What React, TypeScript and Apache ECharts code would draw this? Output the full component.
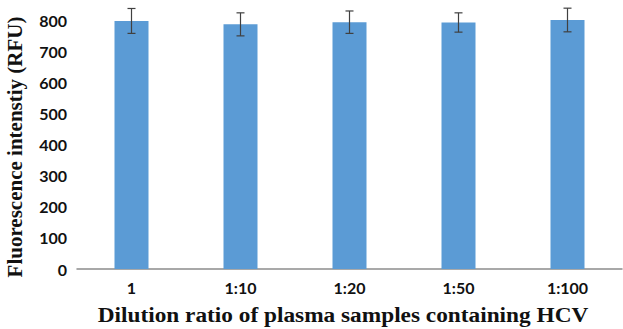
import React, { useEffect, useRef } from "react";
import * as echarts from "echarts";

const categories = ["1", "1:10", "1:20", "1:50", "1:100"];
const values = [797, 786, 793, 792, 800];
const errors = [40, 37, 36, 31, 38];
const yTicks = { min: 0, max: 800, interval: 100 };
const xTitle = "Dilution ratio of plasma samples containing HCV";
const yTitle = "Fluorescence intenstiy (RFU)";

export default function App() {
  const ref = useRef<HTMLDivElement>(null);
  useEffect(() => {
    document.body.style.margin = "0";
    const chart = echarts.init(ref.current!, null, { renderer: "svg" });
    const errData = values.map((v, i) => [i, v - errors[i], v + errors[i]]);
    chart.setOption({
      animation: false,
      backgroundColor: "#ffffff",
      grid: { left: 77, right: 1, top: 20, bottom: 60, containLabel: false },
      xAxis: {
        type: "category",
        data: categories,
        axisLine: { show: true, lineStyle: { color: "#8c8c8c", width: 1.5 } },
        axisTick: { show: false },
        axisLabel: {
          color: "#111",
          fontFamily: "Lato",
          fontWeight: "bold",
          fontSize: 16,
          margin: 10,
        },
      },
      yAxis: {
        type: "value",
        min: yTicks.min,
        max: yTicks.max,
        interval: yTicks.interval,
        splitLine: { show: false },
        axisLine: { show: false },
        axisTick: { show: false },
        axisLabel: {
          color: "#111",
          fontFamily: "Lato",
          fontWeight: "bold",
          fontSize: 16,
          margin: 10,
        },
      },
      graphic: [
        {
          type: "text",
          x: 343,
          y: 315,
          scaleX: 1.11,
          style: {
            text: xTitle,
            font: "bold 21px 'Liberation Serif'",
            fill: "#111",
            align: "center",
            verticalAlign: "middle",
          },
        },
        {
          type: "text",
          x: 15,
          y: 147,
          rotation: Math.PI / 2,
          style: {
            text: yTitle,
            font: "bold 21px 'Liberation Serif'",
            fill: "#111",
            align: "center",
            verticalAlign: "middle",
          },
        },
      ],
      series: [
        {
          type: "bar",
          data: values,
          barWidth: 34,
          itemStyle: { color: "#5b9bd5" },
        },
        {
          type: "custom",
          data: errData,
          z: 10,
          renderItem: (params: any, api: any) => {
            const x = api.value(0);
            const lo = api.coord([x, api.value(1)]);
            const hi = api.coord([x, api.value(2)]);
            const cap = 4;
            const style = { stroke: "#404040", lineWidth: 1.2 };
            return {
              type: "group",
              children: [
                { type: "line", shape: { x1: lo[0], y1: lo[1], x2: hi[0], y2: hi[1] }, style },
                { type: "line", shape: { x1: lo[0] - cap, y1: lo[1], x2: lo[0] + cap, y2: lo[1] }, style },
                { type: "line", shape: { x1: hi[0] - cap, y1: hi[1], x2: hi[0] + cap, y2: hi[1] }, style },
              ],
            };
          },
        },
      ],
    });
    return () => chart.dispose();
  }, []);
  return (
    <div
      ref={ref}
      style={{ position: "absolute", left: 0, top: 0, width: 623, height: 329 }}
    />
  );
}
